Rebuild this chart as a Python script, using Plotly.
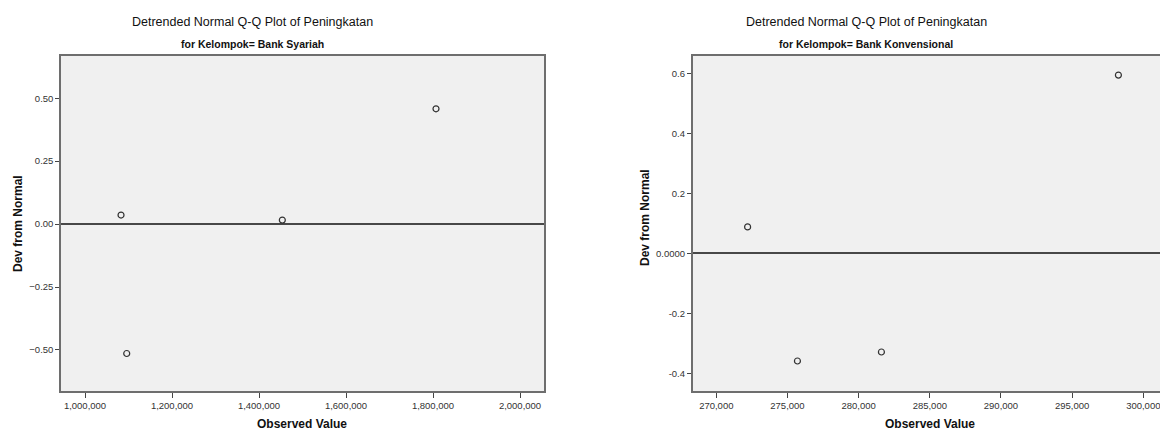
import plotly.graph_objects as go

# ---- data ----
syariah_x = [1082800, 1095900, 1453600, 1806900]
syariah_y = [0.036, -0.514, 0.016, 0.458]
konv_x = [272200, 275700, 281600, 298250]
konv_y = [0.088, -0.359, -0.329, 0.594]

left_xticks = [1000000, 1200000, 1400000, 1600000, 1800000, 2000000]
left_yticks = [0.50, 0.25, 0.00, -0.25, -0.50]
right_xticks = [270000, 275000, 280000, 285000, 290000, 295000, 300000]
right_yticks = [0.6, 0.4, 0.2, 0.0, -0.2, -0.4]
right_yticktext = ["0.6", "0.4", "0.2", "0.0000", "-0.2", "-0.4"]

title_text = "Detrended Normal Q-Q Plot of Peningkatan"
sub_left = "for Kelompok= Bank Syariah"
sub_right = "for Kelompok= Bank Konvensional"

W, H = 1160, 433
FONT = "Liberation Sans, Arial, sans-serif"

def px_x(p):
    return p / W

def px_y(p):
    return 1 - p / H

fig = go.Figure()
marker = dict(symbol="circle-open", size=6, color="#333333", line=dict(width=1.2, color="#333333"))
fig.add_trace(go.Scatter(x=syariah_x, y=syariah_y, mode="markers", marker=marker,
                         xaxis="x", yaxis="y", showlegend=False))
fig.add_trace(go.Scatter(x=konv_x, y=konv_y, mode="markers", marker=marker,
                         xaxis="x2", yaxis="y2", showlegend=False))

tickfont = dict(family=FONT, size=9.5, color="#333333")
axis_common = dict(showgrid=False, showline=True, linecolor="#6e6e6e", linewidth=1.5,
                   ticks="outside", tickwidth=1, tickcolor="#444444",
                   tickfont=tickfont, fixedrange=True, ticklabeloverflow="allow")

y_dom = [px_y(391), px_y(55.7)]
zl = dict(zeroline=True, zerolinecolor="#484848", zerolinewidth=1.6)

fig.update_layout(
    width=W, height=H,
    margin=dict(l=0, r=0, t=0, b=0),
    paper_bgcolor="white",
    plot_bgcolor="#f0f0f0",
    xaxis=dict(domain=[px_x(61), px_x(544)], range=[944828, 2055172],
               tickvals=left_xticks, tickformat=",d", mirror=True, zeroline=False,
               anchor="y", ticklen=5, **axis_common),
    yaxis=dict(domain=y_dom, range=[-0.663, 0.669], tickvals=left_yticks, tickformat=".2f",
               mirror=True, anchor="x", ticklen=4, **zl, **axis_common),
    xaxis2=dict(domain=[px_x(692.7), 1.0], range=[268342, 301173],
                tickvals=right_xticks, tickformat=",d", mirror=True, zeroline=False,
                anchor="y2", ticklen=5, **axis_common),
    yaxis2=dict(domain=y_dom, range=[-0.459, 0.6587], tickvals=right_yticks,
                ticktext=right_yticktext, mirror=False,
                anchor="x2", ticklen=4, **zl, **axis_common),
)

annotations = []
def ann(text, x, y, size, bold=False, angle=0):
    annotations.append(dict(text=f"<b>{text}</b>" if bold else text, x=px_x(x), y=px_y(y),
                            xref="paper", yref="paper", showarrow=False,
                            xanchor="center", yanchor="middle", textangle=angle,
                            font=dict(family=FONT, size=size, color="#111111")))

ann(title_text, 252, 22, 12.5)
ann(sub_left, 252, 44, 10.5, bold=True)
ann(title_text, 866, 22, 12.5)
ann(sub_right, 866, 44, 10.5, bold=True)
ann("Observed Value", 302, 424, 12, bold=True)
ann("Observed Value", 930, 424, 12, bold=True)
ann("Dev from Normal", 18, 224, 12, bold=True, angle=-90)
ann("Dev from Normal", 645, 218, 12, bold=True, angle=-90)
fig.update_layout(annotations=annotations)

fig.write_html("out.html", config={"displayModeBar": False},
               post_script="document.body.style.margin='0';document.body.style.overflow='hidden';")
